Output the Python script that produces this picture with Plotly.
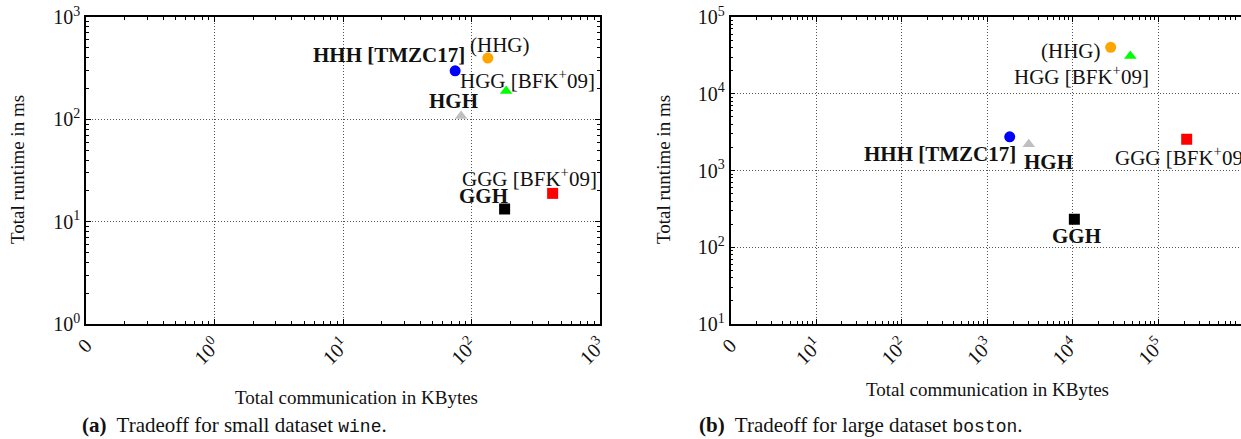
import numpy as np
import plotly.graph_objects as go

# ---------------- data ----------------
names = ["HHH", "HHG", "HGG", "HGH", "GGG", "GGH"]
label_text = ["<b>HHH [TMZC17]</b>", "(HHG)", "HGG [BFK<sup>+</sup>09]", "<b>HGH</b>",
              "GGG [BFK<sup>+</sup>09]", "<b>GGH</b>"]
colors = ["#0000ff", "#ffa500", "#00ff00", "#bfbfbf", "#ff0000", "#000000"]
symbols = ["circle", "circle", "triangle-up", "triangle-up", "square", "square"]

wine_comm = [74.6, 134, 186, 83, 428, 181]          # KBytes
wine_time = [298, 397, 189, 108, 18.9, 13.3]        # ms
boston_comm = [1830, 27700, 47000, 3055, 214000, 10420]
boston_time = [2750, 40300, 31000, 2190, 2550, 231]

x1_ticks = [0.1, 1, 10, 100, 1000]
x1_ticktext = ["0", "10<sup>0</sup>", "10<sup>1</sup>", "10<sup>2</sup>", "10<sup>3</sup>"]
y1_ticks = [1, 10, 100, 1000]
y1_ticktext = ["10<sup>0</sup>", "10<sup>1</sup>", "10<sup>2</sup>", "10<sup>3</sup>"]
x2_ticks = [1, 10, 100, 1000, 1e4, 1e5, 1e6]
x2_ticktext = ["0", "10<sup>1</sup>", "10<sup>2</sup>", "10<sup>3</sup>", "10<sup>4</sup>",
               "10<sup>5</sup>", "10<sup>6</sup>"]
y2_ticks = [10, 100, 1000, 1e4, 1e5]
y2_ticktext = ["10<sup>1</sup>", "10<sup>2</sup>", "10<sup>3</sup>", "10<sup>4</sup>", "10<sup>5</sup>"]

# label placement: (xanchor, xshift, yshift) per point
wine_lab = [("right", 12, 16), ("left", -20, 13), ("right", 91, 12),
            ("center", -8, 15), ("right", 46, 16), ("right", 5, 13)]
boston_lab = [("right", 8, -17), ("right", -9, -4), ("right", 21, -19),
              ("left", -7, -18), ("left", -74, -17), ("center", 2, -17)]

W, H = 1241, 439
FONT = "Liberation Serif"
LAB = 21

def minor_vals(lo, hi):
    out = []
    for d in range(lo, hi):
        for k in range(2, 10):
            out.append(k * 10.0 ** d)
    return out

fig = go.Figure()
for i in range(len(names)):
    fig.add_trace(go.Scatter(x=[wine_comm[i]], y=[wine_time[i]], mode="markers",
                             marker=dict(color=colors[i], symbol=symbols[i], size=11,
                                         line=dict(width=0)),
                             xaxis="x", yaxis="y", showlegend=False))
    fig.add_trace(go.Scatter(x=[boston_comm[i]], y=[boston_time[i]], mode="markers",
                             marker=dict(color=colors[i], symbol=symbols[i], size=11,
                                         line=dict(width=0)),
                             xaxis="x2", yaxis="y2", showlegend=False))

ann = []
for i in range(len(names)):
    xa, xs, ys = wine_lab[i]
    ann.append(dict(x=np.log10(wine_comm[i]), y=np.log10(wine_time[i]), xref="x", yref="y",
                    text=label_text[i], showarrow=False, xanchor=xa, yanchor="middle",
                    xshift=xs, yshift=ys, font=dict(size=LAB, color="#111", family=FONT)))
    xa, xs, ys = boston_lab[i]
    ann.append(dict(x=np.log10(boston_comm[i]), y=np.log10(boston_time[i]), xref="x2", yref="y2",
                    text=label_text[i], showarrow=False, xanchor=xa, yanchor="middle",
                    xshift=xs, yshift=ys, font=dict(size=LAB, color="#111", family=FONT)))

def px_x(p):
    return p / W

def px_y(p):
    return 1 - p / H

# axis titles and captions
ttl = dict(size=19, color="#111", family=FONT)
cap = dict(size=21, color="#111", family=FONT)
mono = "<span style='font-family:Liberation Mono;font-size:18px'>%s</span>"
ann += [
    dict(x=px_x(17), y=px_y(170), xref="paper", yref="paper", text="Total runtime in ms",
         textangle=-90, showarrow=False, font=ttl, xanchor="center", yanchor="middle"),
    dict(x=px_x(663), y=px_y(170), xref="paper", yref="paper", text="Total runtime in ms",
         textangle=-90, showarrow=False, font=ttl, xanchor="center", yanchor="middle"),
    dict(x=px_x(356), y=px_y(397), xref="paper", yref="paper", text="Total communication in KBytes",
         showarrow=False, font=ttl, xanchor="center", yanchor="middle"),
    dict(x=px_x(987), y=px_y(389), xref="paper", yref="paper", text="Total communication in KBytes",
         showarrow=False, font=ttl, xanchor="center", yanchor="middle"),
    dict(x=px_x(80), y=px_y(425), xref="paper", yref="paper",
         text="<b>(a)</b>  Tradeoff for small dataset " + mono % "wine" + ".",
         showarrow=False, font=cap, xanchor="left", yanchor="middle"),
    dict(x=px_x(697), y=px_y(425), xref="paper", yref="paper",
         text="<b>(b)</b>  Tradeoff for large dataset " + mono % "boston" + ".",
         showarrow=False, font=cap, xanchor="left", yanchor="middle"),
]

common = dict(type="log", showline=True, linecolor="black", linewidth=1.5,
              ticks="inside", ticklen=5, tickcolor="black", tickwidth=1,
              showgrid=True, gridcolor="#555", griddash="1px,2px", gridwidth=1,
              zeroline=False, tickmode="array",
              tickfont=dict(size=20, color="#111", family=FONT), automargin=False)

top1, bot1 = 17, 324
fig.update_layout(
    width=W, height=H, margin=dict(l=0, r=0, t=0, b=0),
    paper_bgcolor="white", plot_bgcolor="white",
    xaxis=dict(common, domain=[px_x(86), px_x(600)], range=[-1, 3], anchor="y",
               tickvals=x1_ticks, ticktext=x1_ticktext, tickangle=-45, mirror="ticks",
               minor=dict(ticks="inside", ticklen=3, tickcolor="black", tickmode="array",
                          tickvals=minor_vals(-1, 3), showgrid=False)),
    yaxis=dict(common, domain=[px_y(bot1), px_y(top1)], range=[0, 3], anchor="x",
               tickvals=y1_ticks, ticktext=y1_ticktext, mirror="ticks",
               minor=dict(ticks="inside", ticklen=3, tickcolor="black", tickmode="array",
                          tickvals=minor_vals(0, 3), showgrid=False)),
    xaxis2=dict(common, domain=[px_x(730.5), 1.0], range=[0, 5.965], anchor="y2",
                tickvals=x2_ticks, ticktext=x2_ticktext, tickangle=-45, mirror="ticks",
                minor=dict(ticks="inside", ticklen=3, tickcolor="black", tickmode="array",
                           tickvals=minor_vals(0, 6), showgrid=False)),
    yaxis2=dict(common, domain=[px_y(bot1), px_y(top1)], range=[1, 5], anchor="x2",
                tickvals=y2_ticks, ticktext=y2_ticktext, mirror=False,
                minor=dict(ticks="inside", ticklen=3, tickcolor="black", tickmode="array",
                           tickvals=minor_vals(1, 5), showgrid=False)),
    annotations=ann,
)

fig.write_html("out.html", config={"displayModeBar": False},
               post_script="document.body.style.margin='0';")
